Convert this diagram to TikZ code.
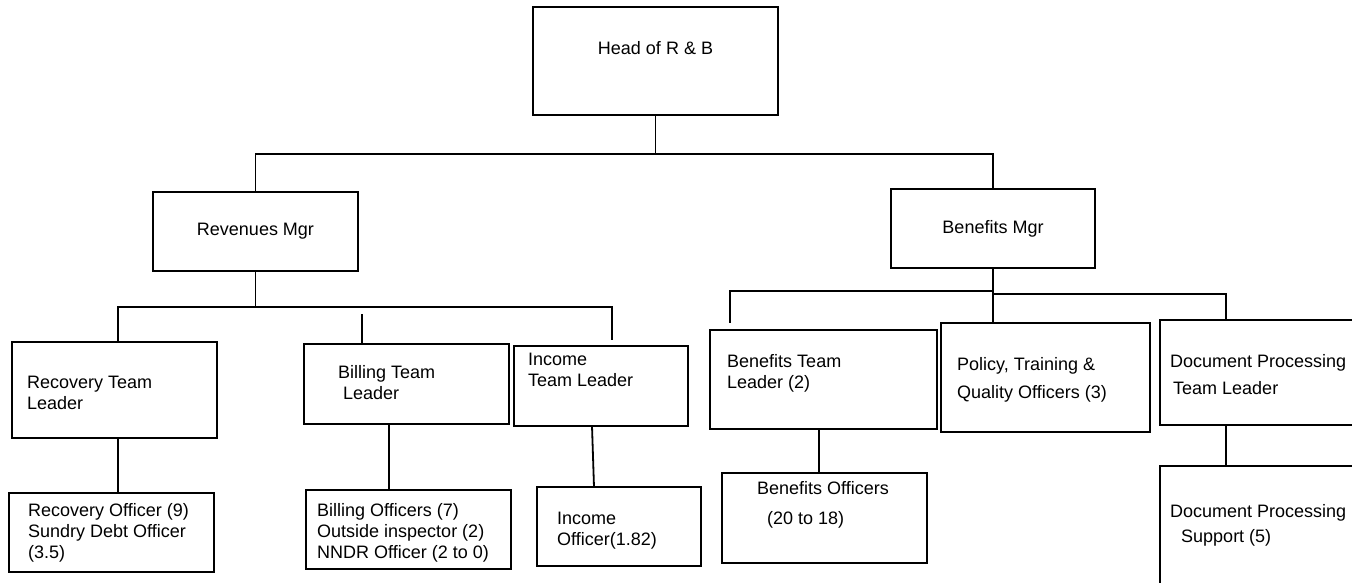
\documentclass[tikz,border=0pt]{standalone}
\usepackage{fontspec}
\setmainfont{Liberation Sans}

\begin{document}
\begin{tikzpicture}[
    x=1pt, y=-1pt,
    font=\fontsize{18}{21}\selectfont,
    box/.style={draw, line width=1.8pt, outer sep=0pt, inner sep=0pt, anchor=north west},
    txt/.style={anchor=north west, inner sep=0pt, align=left},
    link/.style={line width=1.8pt},
]
    \clip (0,0) rectangle (1352,582);
    % managers
    \node[box, minimum width=245, minimum height=108, text depth=26pt] (head) at (533,7) {Head of R \& B};
    \node[box, minimum width=205, minimum height=79] (rev) at (153,192) {Revenues Mgr};
    \node[box, minimum width=204, minimum height=79] (ben) at (891,189) {Benefits Mgr};
    % team leaders
    \node[box, minimum width=205, minimum height=96] (rec) at (12,342) {};
    \node[box, minimum width=205, minimum height=80] (bil) at (304,344) {};
    \node[box, minimum width=174, minimum height=80] (inc) at (514,346) {};
    \node[box, minimum width=227, minimum height=99] (btl) at (710,330) {};
    \node[box, minimum width=209, minimum height=109] (pol) at (941,323) {};
    \node[box, minimum width=240, minimum height=105] (dtl) at (1160,320) {};
    % officers
    \node[box, minimum width=205, minimum height=79] (recoff) at (9,493) {};
    \node[box, minimum width=205, minimum height=79] (biloff) at (306,490) {};
    \node[box, minimum width=164, minimum height=79] (incoff) at (537,487) {};
    \node[box, minimum width=205, minimum height=90] (benoff) at (722,473) {};
    \node[box, minimum width=240, minimum height=150] (dsup) at (1160,466) {};
    % box texts
    \node[txt] (rec-t) at (27,376) {Recovery Team\\Leader};
    \node[txt] (bil-t) at (338,365) {Billing Team\\\hspace*{5pt}Leader};
    \node[txt] (inc-t) at (528,353) {Income\\Team Leader};
    \node[txt] (btl-t) at (727,354) {Benefits Team\\Leader (2)};
    \node[txt] (pol-t) at (957,357) {Policy, Training \&\\[7pt]Quality Officers (3)};
    \node[txt] (dtl-t) at (1170,354) {Document Processing\\[6pt]\hspace*{3pt}Team Leader};
    \node[txt] (recoff-t) at (28,503) {Recovery Officer (9)\\Sundry Debt Officer\\(3.5)};
    \node[txt] (biloff-t) at (317,503) {Billing Officers (7)\\Outside inspector (2)\\NNDR Officer (2 to 0)};
    \node[txt] (incoff-t) at (557,512) {Income\\Officer(1.82)};
    \node[txt] (benoff-t) at (757,481) {Benefits Officers\\[9pt]\hspace*{10pt}(20 to 18)};
    \node[txt] (dsup-t) at (1170,504) {Document Processing\\[4pt]\hspace*{11pt}Support (5)};
    % top level
    \draw[link] (head.south) -- ++(0,39) coordinate (topbus);
    \draw[link] (rev.north) |- (topbus) -| (ben.north);
    % revenues side
    \draw[link] (rev.south) -- ++(0,36) coordinate (revbus);
    \draw[link] ([xshift=3.5pt]rec.north) |- (revbus) -| ([xshift=11pt,yshift=6pt]inc.north);
    \draw[link] ([xshift=-44.5pt]bil.north) -- ++(0,-30);
    \draw[link] ([xshift=3.5pt]rec.south) -- ++(0,55);
    \draw[link] ([xshift=-17.5pt]bil.south) -- ++(0,66);
    \draw[link] ([xshift=-9pt]inc.south) -- ([xshift=-25pt]incoff.north);
    % benefits side
    \draw[link] (ben.south) -- ++(0,23) coordinate (benbus) -- (benbus |- pol.north);
    \draw[link] (benbus) -| ([xshift=-93.5pt,yshift=7pt]btl.north);
    \draw[link] ([yshift=-3pt]benbus) -| ([xshift=-54pt]dtl.north);
    \draw[link] ([xshift=-4.5pt]btl.south) -- ++(0,44);
    \draw[link] ([xshift=-54pt]dtl.south) -- ++(0,41);
\end{tikzpicture}
\end{document}
